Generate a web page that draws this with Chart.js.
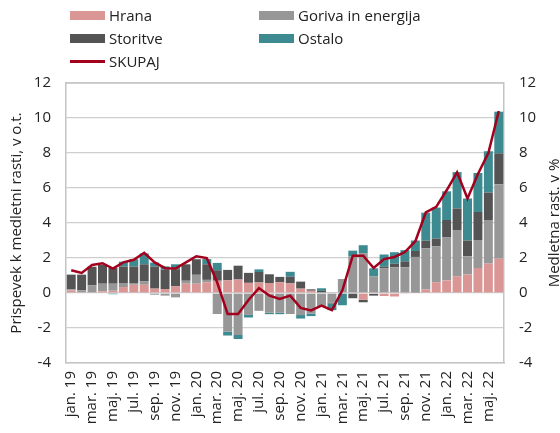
<!DOCTYPE html>
<html>
<head>
<meta charset="utf-8">
<script src="https://cdn.jsdelivr.net/npm/chart.js@4/dist/chart.umd.min.js"></script>
<style>
    html, body { margin: 0; padding: 0; background: #fff; }
    #wrap { position: relative; width: 560px; height: 433px; font-family: "Open Sans", sans-serif; }
    #chart { position: absolute; left: 0; top: 0; }
    .leg { position: absolute; font-size: 15px; color: #222; line-height: 18px; white-space: nowrap; }
    .leg i { position: absolute; left: -39px; display: block; width: 35px; }
</style>
</head>
<body>
<div id="wrap">
    <canvas id="chart" width="560" height="433"></canvas>
    <div id="legend"></div>
</div>
<script>
const months = ['jan', 'feb', 'mar', 'apr', 'maj', 'jun', 'jul', 'avg', 'sep', 'okt', 'nov', 'dec'];
const years = ['19', '20', '21', '22'];
const labels = [];
years.forEach(y => months.forEach(m => labels.push(m + '. ' + y)));
labels.length = 42; // jan. 19 - jun. 22

// contributions, p.p.
const hrana = [0.15, 0.05, 0, 0.1, 0.13, 0.34, 0.47, 0.47, 0.25, 0.23, 0.38, 0.53,
    0.53, 0.6, 0.7, 0.72, 0.77, 0.58, 0.6, 0.57, 0.62, 0.55, 0.25, 0.13,
    0, 0, 0, 0, -0.38, -0.05, -0.17, -0.2, -0.05, 0.02, 0.2, 0.62,
    0.72, 0.96, 1.06, 1.43, 1.68, 1.96];
const goriva = [0.05, 0.1, 0.45, 0.43, 0.4, 0.23, 0.1, 0.19, -0.1, -0.15, -0.25, 0.17,
    0.51, 0.15, -1.2, -2.2, -2.4, -1.25, -1.02, -1.13, -1.13, -1.2, -1.26, -1.17,
    -0.75, -0.55, 0.8, 2.08, 2.28, 0.96, 1.4, 1.47, 1.47, 2.04, 2.36, 2.04,
    2.45, 2.64, 1.04, 1.6, 2.49, 4.25];
const storitve = [0.85, 0.9, 1.05, 1.07, 0.9, 0.94, 0.94, 0.98, 1.26, 1.1, 0.98, 0.94,
    0.89, 0.89, 0.6, 0.6, 0.79, 0.57, 0.6, 0.5, 0.3, 0.38, 0.4, 0.08,
    0.12, -0.05, 0, -0.3, -0.15, -0.1, 0.1, 0.2, 0.34, 0.34, 0.43, 0.45,
    1.0, 1.23, 0.9, 1.6, 1.57, 1.77];
const ostalo = [0, 0, 0, 0, -0.07, 0.28, 0.42, 0.62, 0.23, 0.19, 0.28, 0,
    0, 0.3, 0.42, -0.23, -0.23, -0.15, 0.15, -0.08, -0.08, 0.28, -0.2, -0.15,
    0.15, -0.38, -0.7, 0.34, 0.45, 0.45, 0.7, 0.66, 0.64, 0.6, 1.6, 1.77,
    1.64, 2.08, 2.4, 2.23, 2.36, 2.38];
// year-on-year growth, %
const skupaj = [1.3, 1.15, 1.6, 1.7, 1.4, 1.75, 1.9, 2.3, 1.75, 1.42, 1.4, 1.75,
    2.1, 2.0, 0.6, -1.2, -1.2, -0.4, 0.28, -0.15, -0.34, -0.15, -0.85, -1.0,
    -0.72, -0.98, 0.15, 2.13, 2.13, 1.43, 1.94, 2.06, 2.34, 2.96, 4.6, 4.92,
    5.87, 6.9, 5.4, 6.8, 8.0, 10.4];
const yTicks = [-4, -2, 0, 2, 4, 6, 8, 10, 12];

const font = { family: '"Open Sans", sans-serif', size: 15 };
const txt = '#222';

function bars(label, data, color) {
    return { type: 'bar', label, data, backgroundColor: color, order: 1,
        barPercentage: 0.86, categoryPercentage: 1, yAxisID: 'y' };
}

const rightTitle = {
    id: 'rightTitle',
    afterDraw(chart) {
        const { ctx, chartArea } = chart;
        ctx.save();
        ctx.translate(555, (chartArea.top + chartArea.bottom) / 2);
        ctx.rotate(-Math.PI / 2);
        ctx.font = '15px "Open Sans", sans-serif';
        ctx.fillStyle = txt;
        ctx.textAlign = 'center';
        ctx.textBaseline = 'middle';
        ctx.fillText('Medletna rast. v %', 0, 0);
        ctx.restore();
    }
};

const yScale = (pos) => ({
    position: pos,
    stacked: pos === 'left',
    min: -4, max: 12,
    afterBuildTicks: s => { s.ticks = yTicks.map(v => ({ value: v })); },
    grid: { display: pos === 'left', color: '#cfcfcf', lineWidth: 1.3, drawTicks: false },
    border: { display: true, color: '#c4c4c4', width: 1.5 },
    ticks: { font, color: txt, padding: 15 },
});

const chart = new Chart(document.getElementById('chart').getContext('2d'), {
    data: {
        labels,
        datasets: [
            { type: 'line', label: 'SKUPAJ', data: skupaj, borderColor: '#a2001d', borderWidth: 2.5,
                pointRadius: 0, tension: 0, order: 0, yAxisID: 'y2' },
            bars('Hrana', hrana, '#da9695'),
            bars('Goriva in energija', goriva, '#979797'),
            bars('Storitve', storitve, '#545454'),
            bars('Ostalo', ostalo, '#3d8a90'),
        ]
    },
    options: {
        responsive: false,
        animation: false,
        layout: { padding: { top: 83, left: 6, right: 0, bottom: 0 } },
        plugins: { legend: { display: false }, tooltip: { enabled: false } },
        scales: {
            x: {
                stacked: true,
                grid: { display: false, drawTicks: false },
                border: { display: true, color: '#c4c4c4', width: 1.5 },
                ticks: {
                    font, color: txt, autoSkip: false, minRotation: 90, maxRotation: 90, padding: 8,
                    callback: (v, i) => (i % 2 === 0 ? labels[i] : ''),
                },
                afterFit: s => { s.height = 70; },
            },
            y: Object.assign(yScale('left'), {
                title: { display: true, text: 'Prispevek k medletni rasti, v o.t.', font, color: txt, padding: 2 },
                afterFit: s => { s.width = 60; },
            }),
            y2: Object.assign(yScale('right'), {
                afterFit: s => { s.width = 56; },
            }),
        }
    },
    plugins: [rightTitle, {
        id: 'frameTop',
        afterDatasetsDraw(c) {
            const { ctx, chartArea: a } = c;
            ctx.save();
            ctx.strokeStyle = '#c4c4c4';
            ctx.lineWidth = 1.5;
            ctx.beginPath();
            ctx.moveTo(a.left, a.top);
            ctx.lineTo(a.right, a.top);
            ctx.stroke();
            ctx.restore();
        }
    }]
});

// legend, two columns like the original
const legendPos = [
    ['Hrana', 109, 6], ['Goriva in energija', 298, 6],
    ['Storitve', 109, 29], ['Ostalo', 298, 29],
    ['SKUPAJ', 109, 52],
];
const legend = document.getElementById('legend');
legendPos.forEach(([name, x, y]) => {
    const ds = chart.data.datasets.find(d => d.label === name);
    const el = document.createElement('div');
    el.className = 'leg';
    el.style.left = x + 'px';
    el.style.top = y + 'px';
    const sw = document.createElement('i');
    if (ds.type === 'line') {
        sw.style.top = '8px';
        sw.style.height = '2.5px';
        sw.style.background = ds.borderColor;
    } else {
        sw.style.top = '5px';
        sw.style.height = '9px';
        sw.style.background = ds.backgroundColor;
    }
    el.appendChild(sw);
    el.appendChild(document.createTextNode(name));
    legend.appendChild(el);
});
</script>
</body>
</html>
